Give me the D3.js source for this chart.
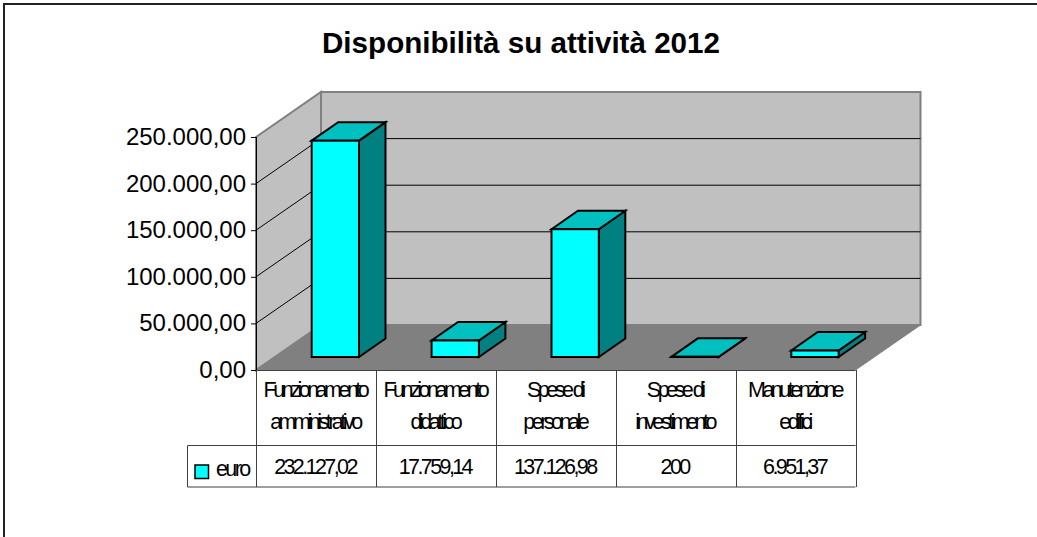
<!DOCTYPE html>
<html><head><meta charset="utf-8">
<style>html,body{margin:0;padding:0;background:#fff}svg{display:block}text{font-family:"Liberation Sans",Arial,sans-serif;fill:#000}</style>
<script src="https://cdn.jsdelivr.net/npm/d3@7"></script></head><body><div id="c"></div>
<script>
const categories=[["Funzionamento","amministrativo"],["Funzionamento","didattico"],["Spese di","personale"],["Spese di","investimento"],["Manutenzione","edifici"]];
const values=[232127.02,17759.14,137126.98,200,6951.37];
const valueLabels=["232.127,02","17.759,14","137.126,98","200","6.951,37"];
const ticks=[0,50000,100000,150000,200000,250000];
const seriesName="euro";
const title="Disponibilità su attività 2012";

const W=1037,H=537;
const svg=d3.select("#c").append("svg").attr("width",W).attr("height",H);
const L=256,R=855.5,B=370,T=137,dx=65,dy=45;
const x=d3.scaleBand().domain(d3.range(values.length)).range([L,R]);
const y=d3.scaleLinear().domain([0,250000]).range([B,T]);
const fmt=d=>d3.format(",.2f")(d).replace(/,/g,"#").replace(".",",").replace(/#/g,".");
svg.append("path").attr("d",`M4,${H}V4H${W}`).attr("fill","none").attr("stroke","#222").attr("stroke-width",2);
svg.append("text").attr("x",521).attr("y",53).attr("text-anchor","middle").attr("font-size",29.6).attr("font-weight","bold").text(title);
const poly=(pts,fill,stroke,sw)=>svg.append("polygon").attr("points",pts.map(p=>p.join(",")).join(" ")).attr("fill",fill).attr("stroke",stroke||"none").attr("stroke-width",sw||0);
poly([[L+dx,T-dy],[R+dx,T-dy],[R+dx,B-dy],[L+dx,B-dy]],"#c0c0c0","#808080",2);
poly([[L,T],[L+dx,T-dy],[L+dx,B-dy],[L,B]],"#c0c0c0","#808080",2);
poly([[L,B],[L+dx,B-dy],[R+dx,B-dy],[R,B]],"#808080","#808080",1);
ticks.forEach(t=>{const v=y(t);
 if(t>0&&t<250000)svg.append("path").attr("d",`M${L},${v}L${L+dx},${v-dy}L${R+dx},${v-dy}`).attr("fill","none").attr("stroke","#000").attr("stroke-width",1);
 svg.append("line").attr("x1",L-5).attr("x2",L).attr("y1",v+.5).attr("y2",v+.5).attr("stroke","#000");
 svg.append("text").attr("x",L-10).attr("y",v+8).attr("text-anchor","end").attr("font-size",24).text(fmt(t));
});
svg.append("line").attr("x1",L+.5).attr("x2",L+.5).attr("y1",T).attr("y2",B).attr("stroke","#000");
const bw=47.3,ox=55.7,base=13,ddx=26.5,ddy=18.5;
values.forEach((d,i)=>{
 const x0=x(i)+ox,x1=x0+bw,yb=B-base,h=B-y(d),yt=yb-h;
 poly([[x1,yb],[x1+ddx,yb-ddy],[x1+ddx,yt-ddy],[x1,yt]],"#008080","#000",2);
 poly([[x0,yt],[x0+ddx,yt-ddy],[x1+ddx,yt-ddy],[x1,yt]],"#00c0c0","#000",2);
 svg.append("rect").attr("x",x0).attr("y",yt).attr("width",bw).attr("height",h).attr("fill","#00ffff").attr("stroke","#000").attr("stroke-width",2);
});
const rowM=445.5,rowB=487,LL=187.5;
const gl=(a,b,c,e)=>svg.append("line").attr("x1",a).attr("y1",b).attr("x2",c).attr("y2",e).attr("stroke","#404040").attr("stroke-width",1);
gl(L,B+.5,R,B+.5);gl(LL,rowM,R,rowM);gl(LL,rowB,R,rowB);gl(LL,rowM,LL,rowB);
d3.range(values.length+1).forEach(i=>{const vx=Math.round(L+i*x.bandwidth())+.5;gl(vx,B,vx,rowB);});
const fs=21.5,ls=-3.5;
values.forEach((d,i)=>{const cx=x(i)+x.bandwidth()/2-1;
 categories[i].forEach((l,j)=>svg.append("text").attr("x",cx).attr("y",397+j*32).attr("text-anchor","middle").attr("font-size",fs).attr("letter-spacing",ls).text(l));
 svg.append("text").attr("x",cx).attr("y",474).attr("text-anchor","middle").attr("font-size",fs).attr("letter-spacing",-2.6).text(valueLabels[i]);
});
svg.append("rect").attr("x",195).attr("y",465).attr("width",13.5).attr("height",13.5).attr("fill","#00ffff").attr("stroke","#000").attr("stroke-width",1.5);
svg.append("text").attr("x",216).attr("y",476).attr("font-size",fs).attr("letter-spacing",-2.6).text(seriesName);
</script></body></html>
